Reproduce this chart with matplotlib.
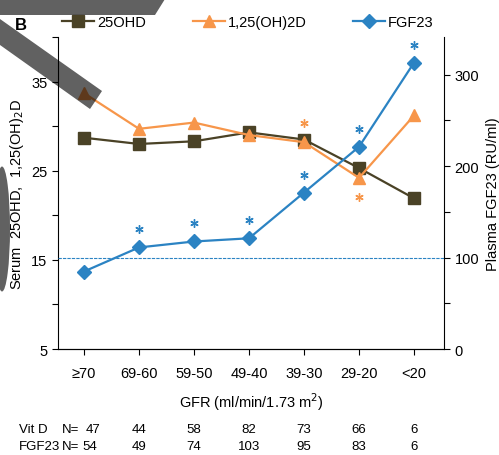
import matplotlib
matplotlib.use("Agg")
import matplotlib.pyplot as plt
from matplotlib.patches import Polygon, Ellipse
import matplotlib.transforms as mtransforms

plt.rcParams['font.family'] = ['Liberation Sans', 'DejaVu Sans']

categories = ["\u226570", "69-60", "59-50", "49-40", "39-30", "29-20", "<20"]
ohd25 = [28.7, 28.0, 28.3, 29.3, 28.5, 25.3, 21.9]
oh2d = [33.7, 29.7, 30.4, 29.0, 28.2, 24.2, 31.2]
fgf23 = [84.7, 111, 117.5, 121, 171, 221, 313]
fgf23_sig = [False, True, True, True, True, True, True]
oh2d_sig_above = [False, False, False, False, True, False, False]
oh2d_sig_below = [False, False, False, False, False, True, False]
n_vitd = [47, 44, 58, 82, 73, 66, 6]
n_fgf23 = [54, 49, 74, 103, 95, 83, 6]
fgf23_ref = 100

c_ohd = "#4a4226"
c_oh2d = "#f7964a"
c_fgf = "#2b83c3"

W, H = 499, 456
fig = plt.figure(figsize=(W/100, H/100), dpi=100)
ax = fig.add_axes([58/W, 1-350/H, (444-58)/W, (350-38)/H])
ax2 = ax.twinx()

x = list(range(len(categories)))
l1, = ax.plot(x, ohd25, color=c_ohd, marker='s', markersize=8, lw=1.6, label="25OHD")
l2, = ax.plot(x, oh2d, color=c_oh2d, marker='^', markersize=9, lw=1.6, label="1,25(OH)2D")
l3, = ax2.plot(x, fgf23, color=c_fgf, marker='D', markersize=7.5, lw=1.6, label="FGF23")
ax2.axhline(fgf23_ref, color=c_fgf, lw=0.8, ls=(0, (3, 1)))

ast = dict(marker=(6, 2, 0), markersize=6, mew=1.0, ls='none')
up2 = mtransforms.offset_copy(ax2.transData, fig=fig, x=0, y=18, units='dots')
up1 = mtransforms.offset_copy(ax.transData, fig=fig, x=0, y=19, units='dots')
dn1 = mtransforms.offset_copy(ax.transData, fig=fig, x=0, y=-19, units='dots')
ax2.plot([xi for xi, s in zip(x, fgf23_sig) if s], [v for v, s in zip(fgf23, fgf23_sig) if s],
         color=c_fgf, transform=up2, **ast)
ax.plot([xi for xi, s in zip(x, oh2d_sig_above) if s], [v for v, s in zip(oh2d, oh2d_sig_above) if s],
        color=c_oh2d, transform=up1, **ast)
ax.plot([xi for xi, s in zip(x, oh2d_sig_below) if s], [v for v, s in zip(oh2d, oh2d_sig_below) if s],
        color=c_oh2d, transform=dn1, **ast)

ax.set_xlim(-0.473, 6.545)
ax.set_ylim(5, 40)
ax2.set_ylim(0, 341)
ax.set_yticks([5, 10, 15, 20, 25, 30, 35, 40])
ax.set_yticklabels(["5", "", "15", "", "25", "", "35", ""])
ax2.set_yticks([0, 50, 100, 150, 200, 250, 300])
ax2.set_yticklabels(["0", "", "100", "", "200", "", "300"])
ax.set_xticks(x)
ax.set_xticklabels(categories)

for a in (ax, ax2):
    a.spines['top'].set_visible(False)
    a.tick_params(labelsize=10.5, length=4, width=0.8, colors='black')
ax.tick_params(axis='x', pad=8)
ax2.spines['left'].set_visible(False)
ax.spines['right'].set_visible(False)

ax.set_xlabel("GFR (ml/min/1.73 m$^2$)", fontsize=10.5, labelpad=8)
ax.set_ylabel("Serum  25OHD,  1,25(OH)$_2$D", fontsize=10.5, labelpad=4)
ax2.set_ylabel("Plasma FGF23 (RU/ml)", fontsize=10.5, labelpad=5)

fig.legend(handles=[l1, l2, l3], loc='center', bbox_to_anchor=(248/W, 1-23/H),
           ncol=3, frameon=False, fontsize=10.5, handlelength=2.2,
           columnspacing=3.2, handletextpad=0.2, borderpad=0)

fig.text(15/W, 1-25/H, "B", fontsize=12, fontweight='bold', ha='left', va='center')

# N table
tr = mtransforms.blended_transform_factory(ax.transData, fig.transFigure)
rows = [("Vit D", "N=", n_vitd, 430, 0.16), ("FGF23", "N=", n_fgf23, 447, 0.1)]
for name, neq, vals, ypx, first_shift in rows:
    fig.text(19/W, 1-ypx/H, name, fontsize=9.5, ha='left', va='center')
    fig.text(62/W, 1-ypx/H, neq, fontsize=9.5, ha='left', va='center')
    for i, (xi, v) in enumerate(zip(x, vals)):
        ax.text(xi + (first_shift if i == 0 else 0), 1-ypx/H, str(v), transform=tr,
                fontsize=9.5, ha='center', va='center')

# gray overlay artifacts in the reference image
px = lambda pts: [(px_x/W, 1-px_y/H) for px_x, px_y in pts]
ov = dict(facecolor='black', alpha=0.62, edgecolor='none', transform=fig.transFigure, zorder=10)
fig.patches.append(Polygon(px([(0, 0), (165, 0), (155, 16), (0, 16)]), **ov))
fig.patches.append(Polygon(px([(0, 20), (102, 92), (90, 110), (0, 46)]), **ov))
fig.patches.append(Ellipse((2/W, 1-230/H), 16/W, 125/H, **ov))

fig.savefig("out.png", dpi=100)
